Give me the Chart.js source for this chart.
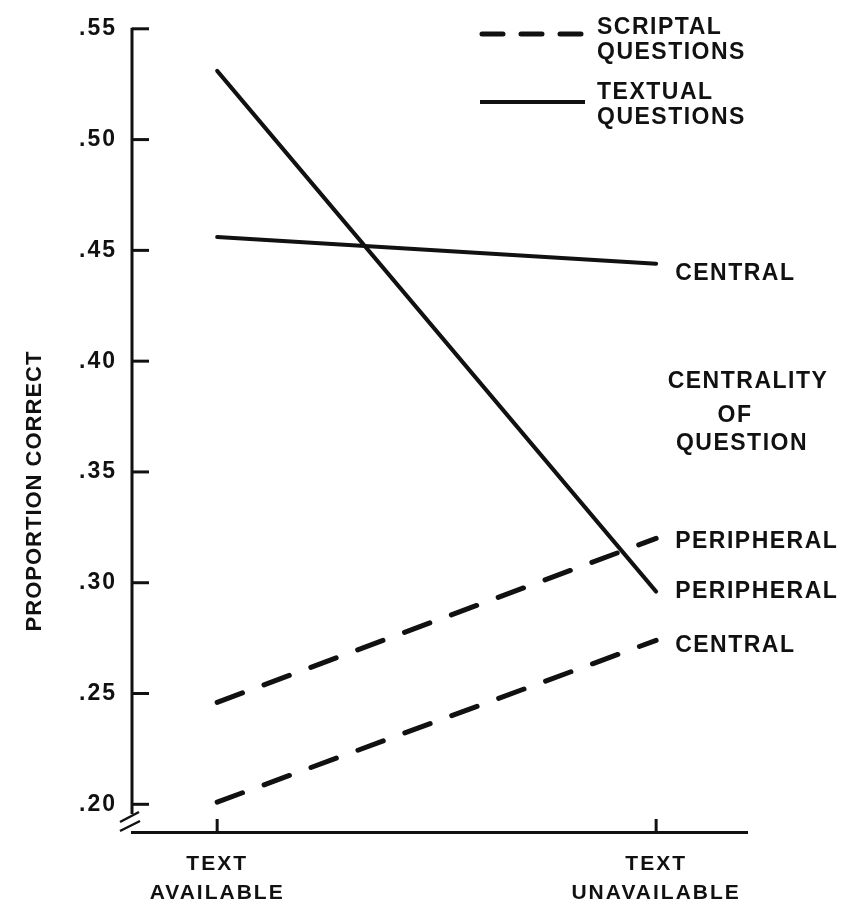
<!DOCTYPE html>
<html>
<head>
<meta charset="utf-8">
<script src="https://cdn.jsdelivr.net/npm/chart.js@4.4.1/dist/chart.umd.min.js"></script>
<style>
  html, body { margin: 0; padding: 0; background: #fff; }
  #wrap { width: 857px; height: 908px; }
</style>
</head>
<body>
<div id="wrap"><canvas id="chart"></canvas></div>
<script>
// Values
const conditions = [['TEXT', 'AVAILABLE'], ['TEXT', 'UNAVAILABLE']];
const conditionX = [0, 1];
const textualCentral = [0.456, 0.444];
const textualPeripheral = [0.531, 0.296];
const scriptalCentral = [0.201, 0.274];
const scriptalPeripheral = [0.246, 0.320];
const yTicks = [0.20, 0.25, 0.30, 0.35, 0.40, 0.45, 0.50, 0.55];

const FONT = '"Liberation Sans", Arial, sans-serif';
const INK = '#111';

function points(values) {
  return values.map((v, i) => ({ x: conditionX[i], y: v }));
}

function series(label, values, dashed, endLabel, labelDy) {
  return {
    label,
    data: points(values),
    borderColor: INK,
    borderWidth: dashed ? 5 : 4,
    borderDash: dashed ? [27, 23] : [],
    borderCapStyle: 'round',
    pointRadius: 0,
    tension: 0,
    endLabel,
    labelDy
  };
}

function text(ctx, str, x, y, size, align, spacing) {
  ctx.save();
  ctx.font = 'bold ' + size + 'px ' + FONT;
  ctx.letterSpacing = (spacing || 0) + 'px';
  ctx.fillStyle = INK;
  ctx.textAlign = align || 'left';
  ctx.textBaseline = 'alphabetic';
  // y is the vertical centre of the capitals
  ctx.fillText(str, x, y + size * 0.36);
  ctx.restore();
}

function line(ctx, x1, y1, x2, y2, w, dash) {
  ctx.save();
  ctx.strokeStyle = INK;
  ctx.lineWidth = w;
  ctx.lineCap = dash ? 'round' : 'butt';
  ctx.setLineDash(dash || []);
  ctx.beginPath();
  ctx.moveTo(x1, y1);
  ctx.lineTo(x2, y2);
  ctx.stroke();
  ctx.restore();
}

const decor = {
  id: 'decor',
  beforeDraw(chart) {
    const ctx = chart.ctx;
    ctx.save();
    ctx.fillStyle = '#fff';
    ctx.fillRect(0, 0, chart.width, chart.height);
    ctx.restore();
    ctx.letterSpacing = '2px';
  },
  afterDraw(chart) {
    const ctx = chart.ctx;
    const { left, top, bottom } = chart.chartArea;
    const xs = chart.scales.x, ys = chart.scales.y;

    // y axis with a break near the bottom
    line(ctx, left, top - 1, left, bottom - 18, 3);
    line(ctx, left - 12, bottom - 10, left + 7, bottom - 20, 2.5);
    line(ctx, left - 12, bottom - 1, left + 8, bottom - 11, 2.5);

    // inward tick marks
    yTicks.forEach(v => {
      const py = ys.getPixelForValue(v);
      line(ctx, left, py, left + 17, py, 3);
    });
    conditionX.forEach(v => {
      const px = xs.getPixelForValue(v);
      line(ctx, px, bottom, px, bottom - 13, 3);
    });

    // y axis title
    ctx.save();
    ctx.translate(33, 491);
    ctx.rotate(-Math.PI / 2);
    text(ctx, 'PROPORTION CORRECT', 0, 0, 22, 'center', 1);
    ctx.restore();

    // legend
    line(ctx, 482, 34, 583, 34, 5, [21, 18]);
    text(ctx, 'SCRIPTAL', 597, 26, 23, 'left', 1.5);
    text(ctx, 'QUESTIONS', 597, 51, 23, 'left', 1.5);
    line(ctx, 480, 102, 585, 102, 4);
    text(ctx, 'TEXTUAL', 597, 91, 23, 'left', 1.5);
    text(ctx, 'QUESTIONS', 597, 116, 23, 'left', 1.5);

    // labels at the line ends
    chart.data.datasets.forEach(ds => {
      const last = ds.data[ds.data.length - 1];
      const px = xs.getPixelForValue(last.x);
      const py = ys.getPixelForValue(last.y);
      text(ctx, ds.endLabel, px + 19, py + ds.labelDy, 23, 'left', 1.5);
    });

    // group heading for the end labels
    text(ctx, 'CENTRALITY', 748, 380, 23, 'center', 1.5);
    text(ctx, 'OF', 735, 414, 23, 'center', 1.5);
    text(ctx, 'QUESTION', 742, 442, 23, 'center', 1.5);
  }
};

new Chart(document.getElementById('chart'), {
  type: 'line',
  data: {
    datasets: [
      series('Textual central', textualCentral, false, 'CENTRAL', 8),
      series('Textual peripheral', textualPeripheral, false, 'PERIPHERAL', -2),
      series('Scriptal peripheral', scriptalPeripheral, true, 'PERIPHERAL', 1),
      series('Scriptal central', scriptalCentral, true, 'CENTRAL', 3)
    ]
  },
  options: {
    responsive: true,
    maintainAspectRatio: false,
    animation: false,
    layout: { padding: { top: 20, right: 110, left: 0, bottom: 0 } },
    plugins: { legend: { display: false }, tooltip: { enabled: false } },
    scales: {
      x: {
        type: 'linear',
        min: -0.194,
        max: 1.207,
        afterBuildTicks: s => { s.ticks = conditionX.map(v => ({ value: v })); },
        afterFit: s => { s.height = 76; },
        ticks: {
          callback: v => conditions[conditionX.indexOf(v)],
          color: INK,
          padding: 18,
          maxRotation: 0,
          font: { family: FONT, size: 21, weight: 'bold', lineHeight: 1.36 }
        },
        grid: { display: false, drawTicks: false },
        border: { display: true, width: 3, color: INK }
      },
      y: {
        type: 'linear',
        min: 0.1875,
        max: 0.55,
        afterBuildTicks: s => { s.ticks = yTicks.map(v => ({ value: v })); },
        afterFit: s => { s.width = 132; },
        ticks: {
          callback: v => v.toFixed(2).replace(/^0/, ''),
          color: INK,
          padding: 15,
          font: { family: FONT, size: 23, weight: 'bold' }
        },
        grid: { display: false, drawTicks: false },
        border: { display: false }
      }
    }
  },
  plugins: [decor]
});
</script>
</body>
</html>
